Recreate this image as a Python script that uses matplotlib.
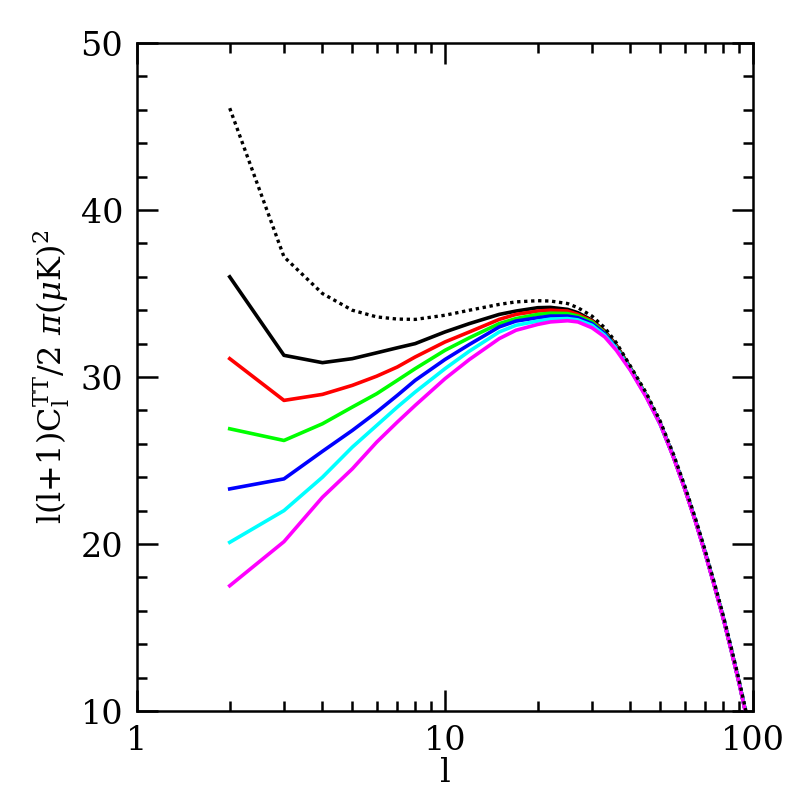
import numpy as np
import matplotlib
matplotlib.use('Agg')
import matplotlib.pyplot as plt
from matplotlib.ticker import FixedLocator, NullFormatter

plt.rcParams['font.family'] = 'DejaVu Serif'
plt.rcParams['mathtext.fontset'] = 'dejavuserif'

ell = [2, 3, 4, 5, 6, 7, 8, 10, 12, 15, 17, 20, 22, 25, 27, 30, 33, 36,
       40, 45, 50, 55, 60, 65, 70, 75, 80, 85, 90, 95, 100]

# dotted reference curve
dotted = [46.1, 37.2, 35.0, 34.0, 33.6, 33.47, 33.45, 33.7, 34.0, 34.35,
          34.5, 34.57, 34.55, 34.4, 34.15, 33.65, 32.95, 32.05,
          30.65, 29.05, 27.35, 25.45, 23.5, 21.55, 19.6, 17.65, 15.75,
          13.8, 11.9, 9.95, 8.05]

black = [36.0, 31.3, 30.86, 31.1, 31.45, 31.75, 32.0, 32.7, 33.2, 33.75,
         33.95, 34.15, 34.17, 34.05, 33.85, 33.4, 32.75, 31.9,
         30.55, 28.9, 27.2, 25.3, 23.35, 21.4, 19.45, 17.5, 15.6,
         13.65, 11.75, 9.8, 7.9]
red = [31.1, 28.6, 28.96, 29.5, 30.05, 30.6, 31.2, 32.1, 32.7, 33.45,
       33.75, 33.95, 34.0, 33.95, 33.75, 33.35, 32.7, 31.85,
       30.5, 28.9, 27.2, 25.3, 23.35, 21.4, 19.45, 17.5, 15.6,
       13.65, 11.75, 9.8, 7.9]
green = [26.9, 26.2, 27.2, 28.2, 29.0, 29.8, 30.5, 31.6, 32.35, 33.2,
         33.5, 33.75, 33.82, 33.8, 33.65, 33.3, 32.65, 31.8,
         30.5, 28.9, 27.2, 25.3, 23.35, 21.4, 19.45, 17.5, 15.6,
         13.65, 11.75, 9.8, 7.9]
blue = [23.3, 23.9, 25.55, 26.8, 27.9, 28.9, 29.8, 31.05, 31.95, 33.0,
        33.35, 33.55, 33.65, 33.65, 33.55, 33.2, 32.6, 31.75,
        30.45, 28.85, 27.2, 25.3, 23.35, 21.4, 19.45, 17.5, 15.6,
        13.65, 11.75, 9.8, 7.9]
cyan = [20.1, 22.0, 24.0, 25.8, 27.1, 28.2, 29.1, 30.5, 31.55, 32.7,
        33.1, 33.35, 33.47, 33.5, 33.42, 33.1, 32.5, 31.7,
        30.45, 28.85, 27.15, 25.3, 23.35, 21.4, 19.45, 17.5, 15.6,
        13.65, 11.75, 9.8, 7.9]
magenta = [17.5, 20.14, 22.8, 24.5, 26.1, 27.3, 28.3, 29.9, 31.05, 32.3,
           32.8, 33.15, 33.3, 33.37, 33.3, 32.95, 32.4, 31.6,
           30.4, 28.8, 27.15, 25.25, 23.3, 21.35, 19.4, 17.45, 15.55,
           13.6, 11.7, 9.75, 7.85]

solid = [black, red, green, blue, cyan, magenta]
colors = ['black', 'red', '#00ff00', 'blue', 'cyan', 'magenta']

fig = plt.figure(figsize=(7.97, 7.97), dpi=100)
ax = fig.add_axes([0.1719, 0.1079, 0.7729, 0.8381])

for ys, c in zip(solid, colors):
    ax.plot(ell, ys, color=c, lw=2.6)
ax.plot(ell, dotted, color='black', lw=2.4, linestyle=(0, (1, 1.1)))

ax.set_xscale('log')
ax.set_xlim(1, 100)
ax.set_ylim(10, 50)

ax.xaxis.set_major_locator(FixedLocator([1, 10, 100]))
ax.xaxis.set_minor_locator(FixedLocator([2, 3, 4, 5, 6, 7, 8, 9,
                                         20, 30, 40, 50, 60, 70, 80, 90]))
ax.xaxis.set_minor_formatter(NullFormatter())
ax.set_xticklabels(['1', '10', '100'])
ax.yaxis.set_major_locator(FixedLocator([10, 20, 30, 40, 50]))
ax.yaxis.set_minor_locator(FixedLocator(np.arange(12, 50, 2)))

ax.tick_params(which='both', direction='in', top=True, right=True,
               width=1.8, labelsize=24, pad=10)
ax.tick_params(which='major', length=15)
ax.tick_params(which='minor', length=7.5)
for s in ax.spines.values():
    s.set_linewidth(1.8)

ax.set_xlabel('l', fontsize=24, labelpad=0)
ax.set_ylabel(r'l(l+1)C$_{\rm l}^{\rm TT}$/2 $\pi(\mu$K)$^2$', fontsize=23,
              labelpad=6)

fig.savefig('out.png', dpi=100)
